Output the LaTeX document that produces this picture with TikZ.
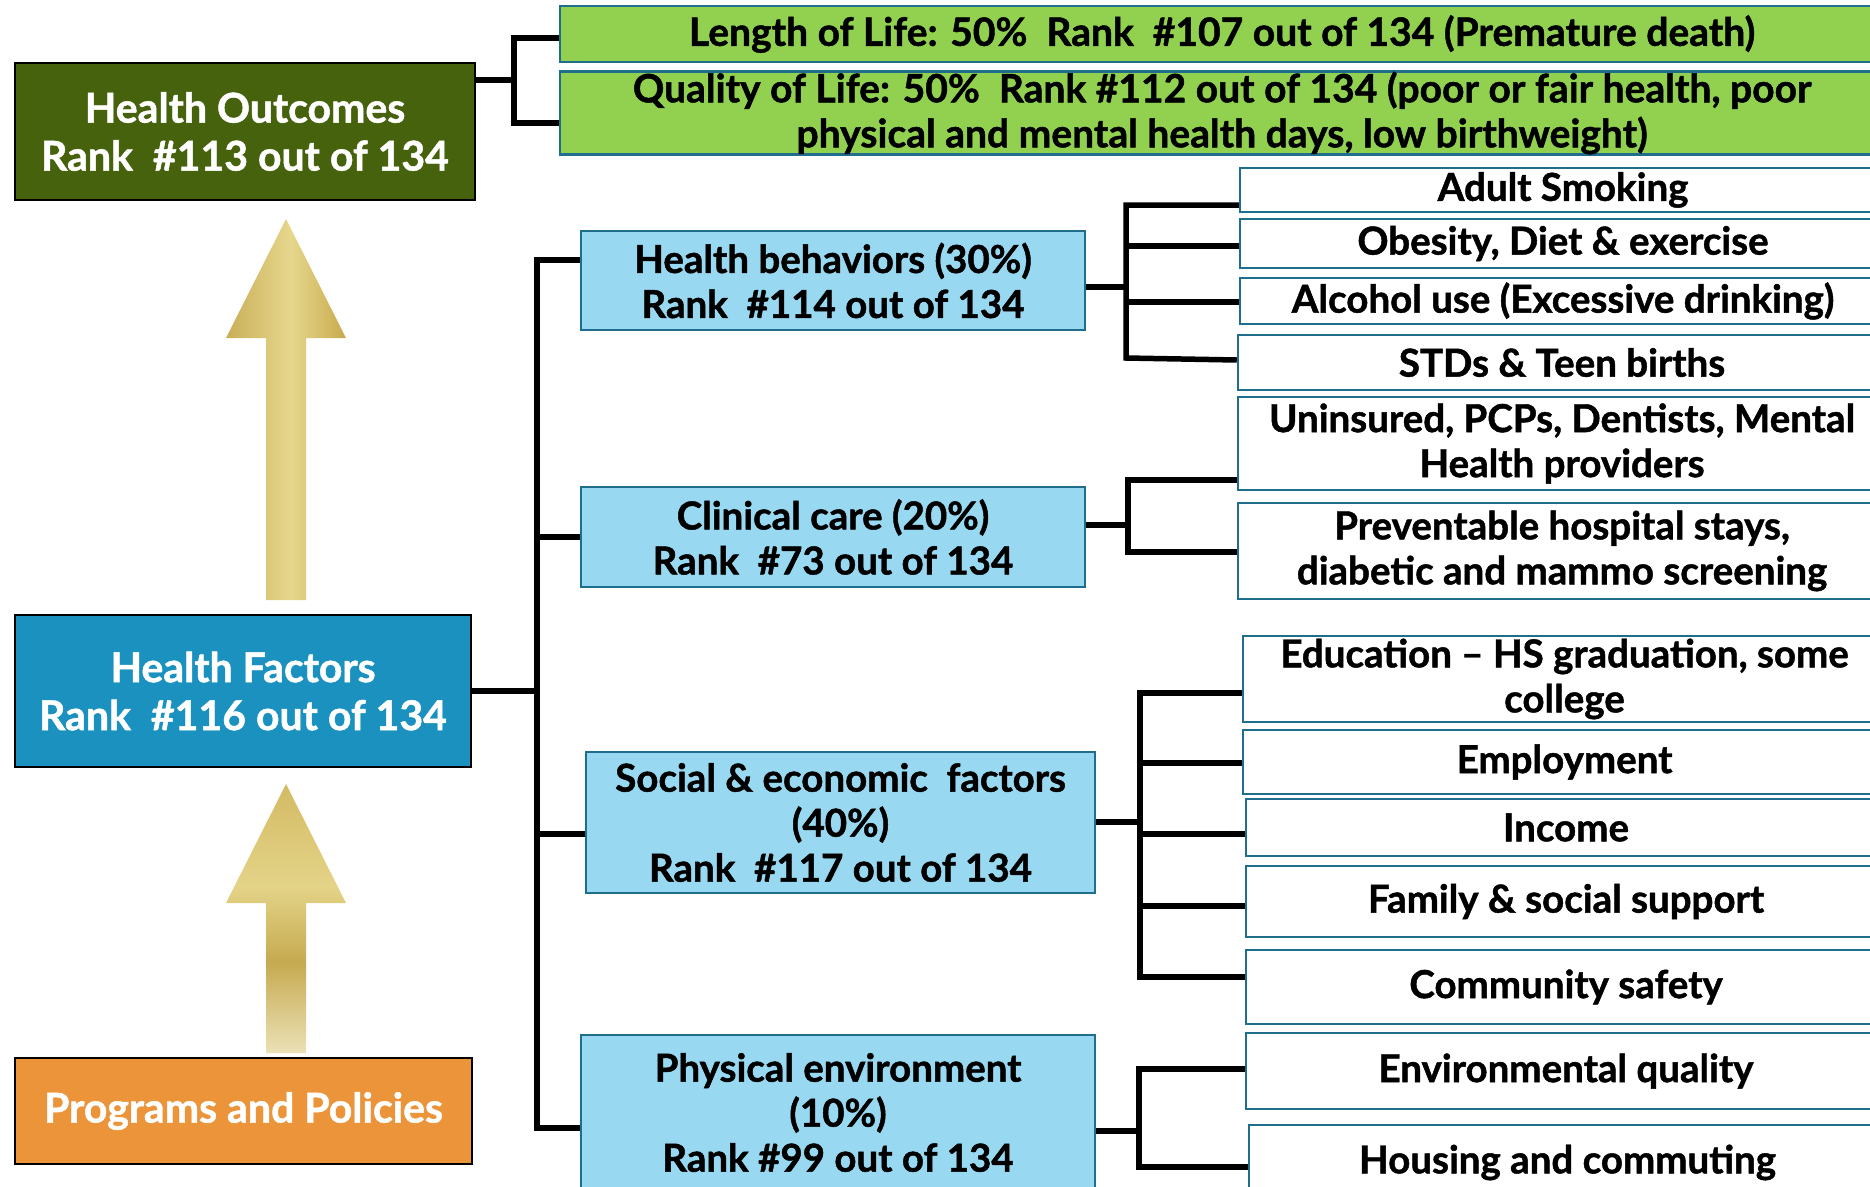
\documentclass[tikz,border=0pt]{standalone}
\usepackage{fontspec}
\setmainfont{Lato}[BoldFeatures={FakeBold=1.2}]
\definecolor{hogreen}{HTML}{46620C}
\definecolor{hfblue}{HTML}{1B91C0}
\definecolor{pporange}{HTML}{EB943A}
\definecolor{lgreen}{HTML}{92D050}
\definecolor{lblue}{HTML}{99D8F1}
\definecolor{bborder}{HTML}{1F6E8E}
\definecolor{gA}{HTML}{C9AE58}
\definecolor{gB}{HTML}{E6D78D}
\definecolor{gC}{HTML}{C8AA4D}
\definecolor{gL}{HTML}{EBE1B6}
\definecolor{gD}{HTML}{C6AA50}
\definecolor{gM}{HTML}{E4D488}
\definecolor{gT}{HTML}{D3BA64}
\pgfdeclarehorizontalshading{arrowone}{100bp}{color(0bp)=(gA); color(25bp)=(gA); color(52bp)=(gB); color(75bp)=(gC); color(100bp)=(gC)}
\pgfdeclareverticalshading{arrowtwo}{100bp}{color(0bp)=(gL); color(25bp)=(gL); color(42bp)=(gD); color(56bp)=(gM); color(75bp)=(gT); color(100bp)=(gT)}
\tikzset{
  basebox/.style={rectangle, inner sep=0pt, align=center, font=\bfseries},
  bigbox/.style={basebox, draw=black, line width=2.5pt, text=white, font=\bfseries\fontsize{41}{48}\selectfont},
  greenbox/.style={basebox, draw=bborder, line width=2.5pt, fill=lgreen, font=\bfseries\fontsize{39}{45}\selectfont},
  midbox/.style={basebox, draw=bborder, line width=2.5pt, fill=lblue, font=\bfseries\fontsize{38.5}{45}\selectfont},
  leafbox/.style={basebox, draw=bborder, line width=2.5pt, fill=white, font=\bfseries\fontsize{38.5}{45}\selectfont},
  conn/.style={draw=black, line width=5.5pt}
}
\begin{document}
\begin{tikzpicture}[x=1pt,y=-1pt]
\useasboundingbox (0,0) rectangle (1870,1186);
\clip (0,0) rectangle (1870,1186);
% arrows
\shade[shading=arrowone] (286,219) -- (346,338) -- (306,338) -- (306,600) -- (266,600) -- (266,338) -- (226,338) -- cycle;
\shade[shading=arrowtwo] (286,784) -- (346,903) -- (306,903) -- (306,1053) -- (266,1053) -- (266,903) -- (226,903) -- cycle;
% left boxes
\node[bigbox, fill=hogreen, minimum width=460, minimum height=137] (ho) at (245,131.5) {Health Outcomes\\Rank\ \ \#113 out of 134};
\node[bigbox, fill=hfblue, minimum width=456, minimum height=152] (hf) at (243,691) {Health Factors\\Rank\ \ \#116 out of 134};
\node[bigbox, fill=pporange, minimum width=457, minimum height=106] (pp) at (243.5,1111) {Programs and Policies};
% green boxes
\node[greenbox, minimum width=1324, minimum height=56] (lol) at (1222,34) {Length of Life: 50\%\ \ Rank\ \ \#107 out of 134 (Premature death)};
\node[greenbox, minimum width=1324, minimum height=82] (qol) at (1222,113) {Quality of Life: 50\%\ \ Rank \#112 out of 134 (poor or fair health, poor\\physical and mental health days, low birthweight)};
% middle boxes
\node[midbox, minimum width=504, minimum height=99] (hb) at (833,280.5) {Health behaviors (30\%)\\Rank\ \ \#114 out of 134};
\node[midbox, minimum width=504, minimum height=100] (cc) at (833,537) {Clinical care (20\%)\\Rank\ \ \#73 out of 134};
\node[midbox, minimum width=509, minimum height=141] (se) at (840.5,822.5) {Social \& economic\ \ factors\\(40\%)\\Rank\ \ \#117 out of 134};
\node[midbox, minimum width=514, minimum height=155] (pe) at (838,1112.5) {Physical environment\\(10\%)\\Rank \#99 out of 134};
% leaf boxes
\node[leafbox, minimum width=646, minimum height=44] (as) at (1563,190) {Adult Smoking};
\node[leafbox, minimum width=646, minimum height=49] (ob) at (1563,243.5) {Obesity, Diet \& exercise};
\node[leafbox, minimum width=646, minimum height=46] (al) at (1563,301) {Alcohol use (Excessive drinking)};
\node[leafbox, minimum width=648, minimum height=55] (st) at (1562,362.5) {STDs \& Teen births};
\node[leafbox, minimum width=648, minimum height=93] (un) at (1562,443.5) {Uninsured, PCPs, Dentists, Mental\\Health providers};
\node[leafbox, minimum width=648, minimum height=96] (pr) at (1562,551) {Preventable hospital stays,\\diabetic and mammo screening};
\node[leafbox, minimum width=643, minimum height=86] (ed) at (1564.5,679) {Education~– HS graduation, some\\college};
\node[leafbox, minimum width=643, minimum height=64] (em) at (1564.5,762) {Employment};
\node[leafbox, minimum width=640, minimum height=57] (in) at (1566,827.5) {Income};
\node[leafbox, minimum width=640, minimum height=71] (fa) at (1566,901.5) {Family \& social support};
\node[leafbox, minimum width=640, minimum height=74] (co) at (1566,987) {Community safety};
\node[leafbox, minimum width=640, minimum height=76] (en) at (1566,1071) {Environmental quality};
\node[leafbox, minimum width=637, minimum height=75] (hs) at (1567.5,1162.5) {Housing and commuting};
% junction coordinates
\coordinate (jho) at (514,80);
\coordinate (jhf) at (537,691);
\coordinate (jhb) at (1126,287);
\coordinate (jcc) at (1128,525);
\coordinate (jse) at (1140,822);
\coordinate (jpe) at (1139,1131);
% connectors: outcomes
\draw[conn] (ho.east |- jho) -- (jho);
\draw[conn] (lol.west |- 0,38) -| (514,123) -- (qol.west |- 0,123);
% connectors: factors
\draw[conn] (hf.east) -- (jhf);
\draw[conn] (hb.west |- 0,260) -| (537,1128) -- (pe.west |- 0,1128);
\draw[conn] (537,537) -- (cc.west);
\draw[conn] (537,834) -- (se.west |- 0,834);
% behaviors
\draw[conn] (hb.east |- jhb) -- (jhb);
\draw[conn] (as.west |- 0,205) -| (1126,358) -- (st.west |- 0,360);
\draw[conn] (1126,246) -- (ob.west |- 0,246);
\draw[conn] (1126,302) -- (al.west |- 0,302);
% clinical
\draw[conn] (cc.east |- jcc) -- (jcc);
\draw[conn] (un.west |- 0,480) -| (1128,552) -- (pr.west |- 0,552);
% social
\draw[conn] (se.east |- jse) -- (jse);
\draw[conn] (ed.west |- 0,693) -| (1140,977) -- (co.west |- 0,977);
\draw[conn] (1140,763) -- (em.west |- 0,763);
\draw[conn] (1140,834) -- (in.west |- 0,834);
\draw[conn] (1140,906) -- (fa.west |- 0,906);
% physical
\draw[conn] (pe.east |- jpe) -- (jpe);
\draw[conn] (en.west |- 0,1069) -| (1139,1167) -- (hs.west |- 0,1167);
\end{tikzpicture}
\end{document}
